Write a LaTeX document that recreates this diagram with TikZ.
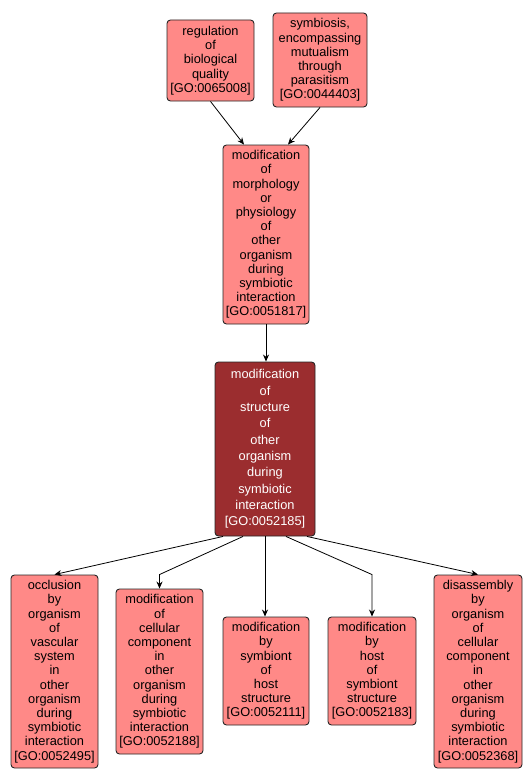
\documentclass[tikz,border=0pt]{standalone}
\usepackage{fontspec}
\setmainfont{Liberation Sans}
\usetikzlibrary{calc,arrows.meta}
\definecolor{lightbox}{RGB}{255,137,135}
\definecolor{darkbox}{RGB}{155,45,47}
\tikzset{
  gobox/.style={draw=black!85, line width=0.9pt, rounded corners=3.5pt, fill=lightbox,
    align=center, inner sep=0pt, text width=#1, minimum width=#1,
    font=\fontsize{12.8}{14.2}\selectfont},
  darkgobox/.style={gobox=#1, fill=darkbox, text=white,
    font=\fontsize{12.8}{16.3}\selectfont},
  arr/.style={line width=0.8pt, -{Stealth[length=7pt,width=6pt]}},
}
\begin{document}
\begin{tikzpicture}[x=1pt,y=1pt]
\useasboundingbox (0,0) rectangle (531,-784);
\node[gobox=87pt, minimum height=81pt] (reg) at (210.5,-60.5) {regulation\\of\\biological\\quality\\{[}GO:0065008{]}};
\node[gobox=94pt, minimum height=94pt] (sym) at (320,-60) {symbiosis,\\encompassing\\mutualism\\through\\parasitism\\{[}GO:0044403{]}};
\node[gobox=86pt, minimum height=179pt] (mid) at (266,-234.5) {modification\\of\\morphology\\or\\physiology\\of\\other\\organism\\during\\symbiotic\\interaction\\{[}GO:0051817{]}};
\node[darkgobox=100pt, minimum height=174pt] (dark) at (265,-449) {modification\\of\\structure\\of\\other\\organism\\during\\symbiotic\\interaction\\{[}GO:0052185{]}};
\node[gobox=87pt, minimum height=193pt] (occ) at (54.5,-671.5) {occlusion\\by\\organism\\of\\vascular\\system\\in\\other\\organism\\during\\symbiotic\\interaction\\{[}GO:0052495{]}};
\node[gobox=87pt, minimum height=165pt] (cell) at (159.5,-671.5) {modification\\of\\cellular\\component\\in\\other\\organism\\during\\symbiotic\\interaction\\{[}GO:0052188{]}};
\node[gobox=86pt, minimum height=108pt] (symb) at (266,-671) {modification\\by\\symbiont\\of\\host\\structure\\{[}GO:0052111{]}};
\node[gobox=88pt, minimum height=108pt] (host) at (372,-671) {modification\\by\\host\\of\\symbiont\\structure\\{[}GO:0052183{]}};
\node[gobox=88pt, minimum height=193pt] (dis) at (478,-671.5) {disassembly\\by\\organism\\of\\cellular\\component\\in\\other\\organism\\during\\symbiotic\\interaction\\{[}GO:0052368{]}};
\draw[arr] (reg.south) -- ($(mid.north)+(-22,0)$);
\draw[arr] (sym.south) -- ($(mid.north)+(22,0)$);
\draw[arr] (mid.south) -- (mid.south |- dark.north);
\draw[arr] ($(dark.south)+(-42,0)$) -- (occ.north);
\draw[arr] ($(dark.south)+(-22,0)$) -- ($(cell.north)+(0,14)$) -- (cell.north);
\draw[arr] (dark.south) -- (dark.south |- symb.north);
\draw[arr] ($(dark.south)+(21,0)$) -- ($(host.north)+(0,42)$) -- (host.north);
\draw[arr] ($(dark.south)+(42,0)$) -- (dis.north);
\end{tikzpicture}
\end{document}
